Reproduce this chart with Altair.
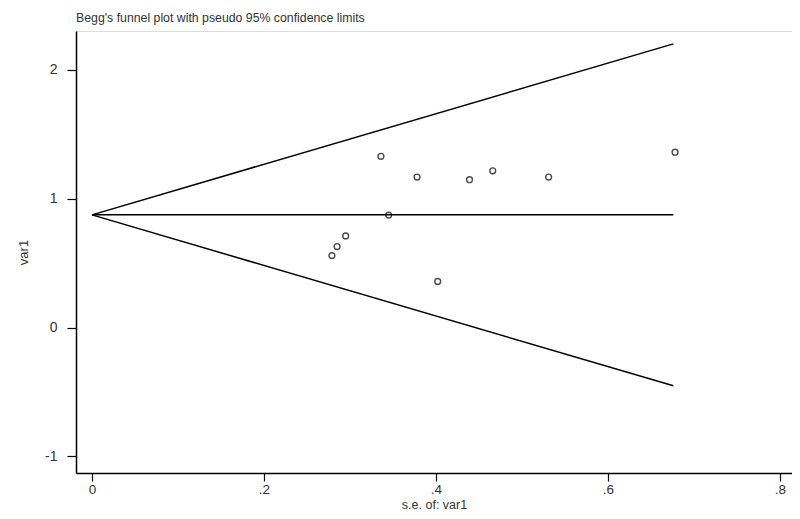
import altair as alt
import pandas as pd

# Study points (standard error, effect)
se_vals = [0.336, 0.378, 0.439, 0.466, 0.531, 0.678, 0.345, 0.295, 0.285, 0.279, 0.402]
eff_vals = [1.328, 1.167, 1.147, 1.216, 1.167, 1.360, 0.872, 0.711, 0.628, 0.558, 0.358]

# Funnel lines (pseudo 95% limits), endpoints
line_names = ["upper", "upper", "center", "center", "lower", "lower"]
line_se = [0.0, 0.676, 0.0, 0.676, 0.0, 0.676]
line_val = [0.874, 2.200, 0.874, 0.874, 0.874, -0.452]

x_ticks = [0, 0.2, 0.4, 0.6, 0.8]
y_ticks = [-1, 0, 1, 2]

pts = pd.DataFrame({"se": se_vals, "eff": eff_vals})
lines = pd.DataFrame({"name": line_names, "se": line_se, "val": line_val})

xscale = alt.Scale(domain=[-0.0186, 0.814], nice=False, zero=False)
yscale = alt.Scale(domain=[-1.128, 2.30], nice=False, zero=False)

x_label_expr = "datum.value == 0 ? '0' : replace(format(datum.value, '.1f'), '0.', '.')"
y_label_expr = "datum.value < 0 ? '-' + toString(-datum.value) : toString(datum.value)"

xaxis = alt.Axis(values=x_ticks, labelExpr=x_label_expr, title="s.e. of: var1",
                 grid=False, domainColor="black", domainWidth=1.5, tickColor="black",
                 tickWidth=1.2, tickSize=8, labelFontSize=13.5, labelColor="#333",
                 labelFont="Liberation Sans", titleFont="Liberation Sans",
                 titleFontSize=12.5, titleFontWeight="normal", titleColor="#333",
                 labelPadding=1, titlePadding=3)
yaxis = alt.Axis(values=y_ticks, labelExpr=y_label_expr, title="var1", grid=False,
                 domainColor="black", domainWidth=1.5, tickColor="black",
                 tickWidth=1.2, tickSize=9, labelFontSize=14, labelColor="#333",
                 labelFont="Liberation Sans", titleFont="Liberation Sans",
                 titleFontSize=13, titleFontWeight="normal", titleColor="#333",
                 labelPadding=10, titlePadding=14)

line_layer = alt.Chart(lines).mark_line(color="black", strokeWidth=1.5).encode(
    x=alt.X("se:Q", scale=xscale, axis=xaxis),
    y=alt.Y("val:Q", scale=yscale, axis=yaxis),
    detail="name:N",
)

pt_layer = alt.Chart(pts).mark_point(shape="circle", filled=False, color="black",
                                     size=34, strokeWidth=1.4).encode(
    x=alt.X("se:Q", scale=xscale),
    y=alt.Y("eff:Q", scale=yscale),
)

chart = alt.layer(line_layer, pt_layer).properties(
    width=716, height=442,
    autosize=alt.AutoSizeParams(type="none"),
    padding={"left": 68, "top": 23, "right": 0, "bottom": 38},
    title=alt.TitleParams("Begg's funnel plot with pseudo 95% confidence limits",
                          anchor="start", frame="group", fontSize=12.3,
                          font="Liberation Sans", fontWeight="normal", color="#333",
                          offset=7, dx=0),
).configure_view(stroke=None).configure(background="white")

chart.save("out.html", embed_options={"renderer": "svg", "actions": False})
